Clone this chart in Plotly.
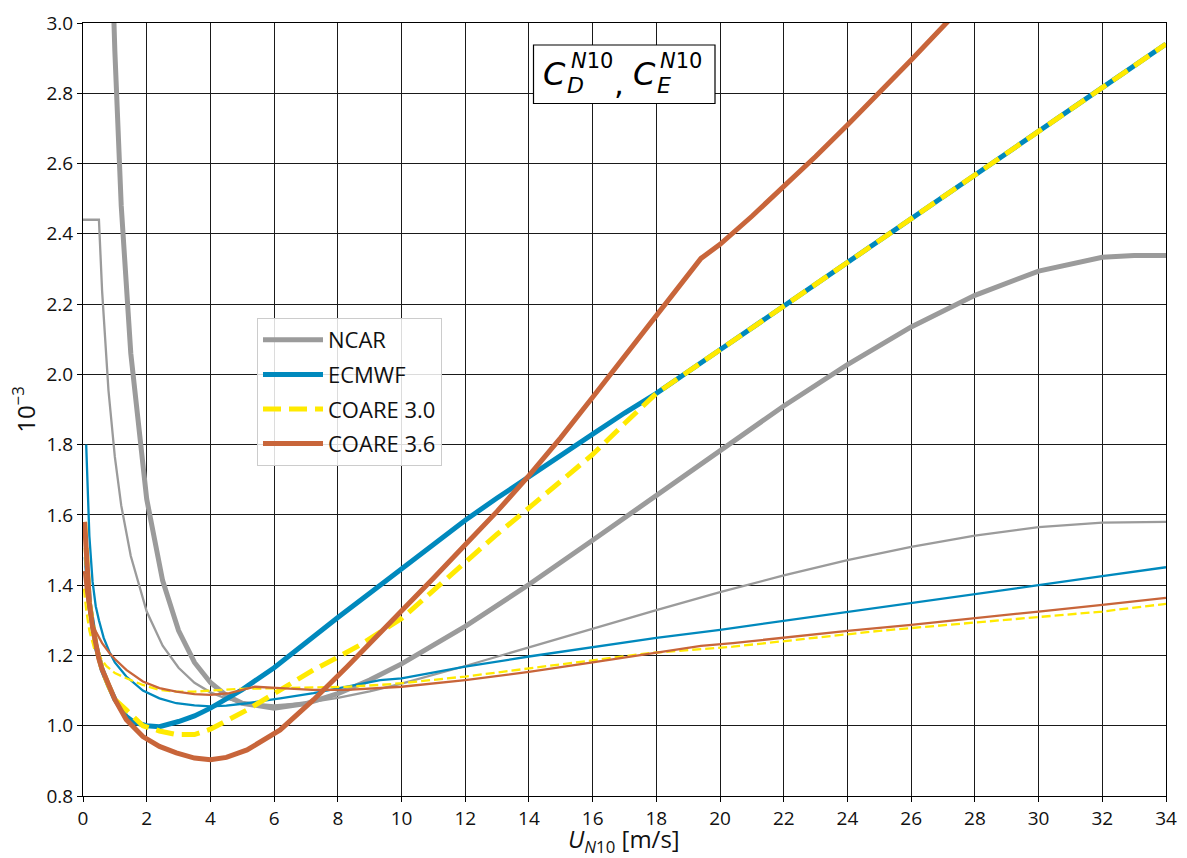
import plotly.graph_objects as go

# ---------------- data (values in units of 1e-3) ----------------
ncar_cd_x = [0.9, 1.0, 1.2, 1.5, 2.0, 2.5, 3.0, 3.5, 4.0, 4.5, 5.0, 6.0, 7.0, 8.0, 9.0, 10, 12, 14, 16, 18, 20, 22, 24, 26, 28, 30, 32, 33, 34]
ncar_cd_y = [3.21, 2.92, 2.48, 2.06, 1.645, 1.413, 1.271, 1.18, 1.123, 1.086, 1.064, 1.05, 1.063, 1.091, 1.13, 1.176, 1.283, 1.402, 1.528, 1.656, 1.785, 1.91, 2.028, 2.135, 2.225, 2.294, 2.333, 2.338, 2.338]

ncar_ce_x = [0.0, 0.5, 0.6, 0.7, 0.8, 1.0, 1.2, 1.5, 2.0, 2.5, 3.0, 3.5, 4.0, 4.5, 5.0, 6.0, 7.0, 8.0, 9.0, 10, 12, 14, 16, 18, 20, 22, 24, 26, 28, 30, 32, 34]
ncar_ce_y = [2.44, 2.44, 2.237, 2.08, 1.954, 1.765, 1.627, 1.483, 1.325, 1.228, 1.165, 1.122, 1.095, 1.077, 1.066, 1.058, 1.065, 1.079, 1.098, 1.12, 1.17, 1.223, 1.277, 1.329, 1.38, 1.428, 1.471, 1.509, 1.541, 1.565, 1.578, 1.58]

ecmwf_cd_x = [0.1, 0.2, 0.4, 0.6, 0.8, 1.0, 1.36, 1.6, 2.0, 2.4, 3.0, 3.5, 4, 5, 6, 7, 8, 9, 10, 11, 12, 13, 14, 15, 16, 17, 18, 20, 22, 24, 26, 28, 30, 32, 34]
ecmwf_cd_y = [1.48, 1.35, 1.23, 1.16, 1.115, 1.075, 1.026, 1.01, 1.0, 0.997, 1.012, 1.028, 1.05, 1.103, 1.165, 1.238, 1.308, 1.377, 1.445, 1.517, 1.585, 1.648, 1.71, 1.77, 1.83, 1.89, 1.946, 2.07, 2.195, 2.32, 2.444, 2.568, 2.692, 2.816, 2.94]

ecmwf_ce_x = [0.1, 0.15, 0.2, 0.3, 0.4, 0.5, 0.65, 0.83, 1.0, 1.36, 1.88, 2.4, 2.93, 3.5, 4.0, 4.5, 5.15, 6.19, 7.24, 8.29, 9.33, 10, 12, 14, 16, 18, 20, 22, 24, 26, 28, 30, 32, 34]
ecmwf_ce_y = [1.80, 1.66, 1.54, 1.41, 1.34, 1.30, 1.25, 1.21, 1.18, 1.14, 1.10, 1.078, 1.064, 1.058, 1.055, 1.057, 1.064, 1.078, 1.093, 1.111, 1.13, 1.135, 1.168, 1.197, 1.224, 1.25, 1.273, 1.298, 1.323, 1.349, 1.375, 1.40, 1.426, 1.451]

coare30_cd_x = [0.05, 0.1, 0.2, 0.4, 0.6, 0.8, 1.0, 1.36, 1.88, 2.4, 2.93, 3.5, 4, 5.15, 6.19, 7.24, 8, 8.7, 10, 11, 12, 13, 14, 15, 16, 17, 18, 20, 22, 24, 26, 28, 30, 32, 34]
coare30_cd_y = [1.58, 1.48, 1.35, 1.23, 1.16, 1.115, 1.075, 1.045, 1.0, 0.985, 0.975, 0.975, 0.99, 1.045, 1.102, 1.159, 1.195, 1.23, 1.305, 1.385, 1.465, 1.545, 1.62, 1.695, 1.772, 1.86, 1.946, 2.07, 2.195, 2.32, 2.444, 2.568, 2.692, 2.816, 2.94]

coare30_ce_x = [0.03, 0.1, 0.2, 0.35, 0.5, 0.73, 1.0, 1.36, 1.88, 2.4, 2.93, 3.5, 4, 5, 6.2, 8.3, 9.3, 10, 12, 14, 16, 17.8, 20.4, 22.5, 25, 28.8, 30, 32, 34]
coare30_ce_y = [1.39, 1.33, 1.27, 1.22, 1.20, 1.17, 1.15, 1.135, 1.116, 1.102, 1.097, 1.097, 1.10, 1.105, 1.107, 1.111, 1.116, 1.121, 1.14, 1.163, 1.186, 1.207, 1.225, 1.245, 1.27, 1.30, 1.31, 1.325, 1.347]

coare36_cd_x = [0.05, 0.1, 0.15, 0.2, 0.3, 0.4, 0.5, 0.6, 0.8, 1.0, 1.36, 1.88, 2.4, 2.93, 3.5, 4.0, 4.5, 5.15, 6.19, 7.24, 8.29, 9.12, 10, 11, 12, 13, 14, 15, 16, 17, 18, 19, 19.4, 20, 21, 22, 23, 24, 25, 26, 27, 28]
coare36_cd_y = [1.58, 1.48, 1.41, 1.35, 1.28, 1.23, 1.19, 1.16, 1.115, 1.075, 1.017, 0.969, 0.941, 0.923, 0.908, 0.903, 0.91, 0.931, 0.988, 1.074, 1.168, 1.244, 1.325, 1.42, 1.515, 1.61, 1.712, 1.82, 1.935, 2.05, 2.168, 2.285, 2.33, 2.37, 2.45, 2.535, 2.62, 2.71, 2.80, 2.895, 2.99, 3.085]

coare36_ce_x = [0.03, 0.1, 0.2, 0.3, 0.42, 0.6, 0.83, 1.0, 1.36, 1.88, 2.4, 2.93, 3.5, 4.0, 4.6, 5.0, 5.4, 6.2, 7.2, 8.3, 9.3, 10, 12, 14, 16, 18, 19.4, 20.4, 22.5, 24, 26, 28.8, 30, 32, 34]
coare36_ce_y = [1.44, 1.38, 1.32, 1.29, 1.265, 1.235, 1.207, 1.19, 1.159, 1.126, 1.107, 1.097, 1.09, 1.088, 1.093, 1.103, 1.111, 1.107, 1.102, 1.102, 1.108, 1.111, 1.13, 1.153, 1.18, 1.207, 1.227, 1.235, 1.256, 1.27, 1.287, 1.315, 1.325, 1.344, 1.364]

x_ticks = list(range(0, 36, 2))
y_ticks = [0.8, 1.0, 1.2, 1.4, 1.6, 1.8, 2.0, 2.2, 2.4, 2.6, 2.8, 3.0]

# ---------------- style ----------------
GRAY = "#9b9b9b"
BLUE = "#0089bd"
YELLOW = "#ffea00"
ORANGE = "#c8653a"
THICK = 5
THIN = 2.3

fig = go.Figure()

def add(x, y, color, width, name, show, dash="solid", group=None):
    fig.add_trace(go.Scatter(x=x, y=y, mode="lines", name=name, showlegend=show,
                             legendgroup=group,
                             line=dict(color=color, width=width, dash=dash)))

add(ncar_cd_x, ncar_cd_y, GRAY, THICK, "NCAR", True, group="a")
add(ncar_ce_x, ncar_ce_y, GRAY, THIN, "NCAR CE", False, group="a")
add(ecmwf_cd_x, ecmwf_cd_y, BLUE, THICK, "ECMWF", True, group="b")
add(ecmwf_ce_x, ecmwf_ce_y, BLUE, THIN, "ECMWF CE", False, group="b")
add(coare30_cd_x, coare30_cd_y, YELLOW, THICK, "COARE 3.0", True, dash="18px,8px", group="c")
add(coare30_ce_x, coare30_ce_y, YELLOW, THIN, "COARE 3.0 CE", False, dash="9px,4px", group="c")
add(coare36_cd_x, coare36_cd_y, ORANGE, THICK, "COARE 3.6", True, group="d")
add(coare36_ce_x, coare36_ce_y, ORANGE, THIN, "COARE 3.6 CE", False, group="d")

# body margin is removed by post_script, so the figure fills the window from (0, 0)
OFF = 0
W, H = 1187, 858
L, R, T, B = 83, 21, 23, 62
PW, PH = W - L - R, H - T - B

def px(xp):  # page pixel -> paper x
    return (xp - OFF - L) / PW

def py(yp):  # page pixel -> paper y
    return (OFF + H - B - yp) / PH

axis_common = dict(showline=True, linecolor="black", linewidth=1, mirror=True,
                   ticks="outside", ticklen=5, tickcolor="black",
                   showgrid=True, gridcolor="#1a1a1a", gridwidth=0.9,
                   zeroline=False, tickfont=dict(family="Open Sans", size=19, color="#111"))

fig.update_xaxes(range=[0, 34], tickvals=x_ticks, **axis_common)
fig.update_yaxes(range=[0.8, 3.0], tickvals=y_ticks, tickformat=".1f", **axis_common,
                 title=dict(text="10<sup>−3</sup>",
                            font=dict(family="Open Sans", size=24, color="#111"), standoff=4))

# x-axis title as an annotation (placed below tick labels)
fig.add_annotation(text="<i>U</i><sub><i>N</i>10</sub> [m/s]", x=px(624), y=py(840),
                   xref="paper", yref="paper", showarrow=False,
                   xanchor="center", yanchor="middle",
                   font=dict(family="Open Sans", size=24, color="#111"))

# title box with stacked sub/superscripts
fig.add_shape(type="rect", xref="paper", yref="paper",
              x0=px(533.5), x1=px(715), y0=py(103.5), y1=py(45),
              line=dict(color="black", width=1.2), fillcolor="white", layer="above")

def txt(s, xp, yp, size):
    fig.add_annotation(text=s, x=px(xp), y=py(yp), xref="paper", yref="paper",
                       showarrow=False, xanchor="center", yanchor="middle",
                       font=dict(family="DejaVu Sans", size=size, color="black"))

txt("<i>C</i>", 554, 74, 32)
txt("<i>N</i>10", 592, 61, 21)
txt("<i>D</i>", 575, 86, 22)
txt(",", 619, 83, 31)
txt("<i>C</i>", 644, 74, 32)
txt("<i>N</i>10", 681, 61, 21)
txt("<i>E</i>", 664, 86, 22)

fig.update_layout(
    width=W, height=H,
    margin=dict(l=L, r=R, t=T, b=B, autoexpand=False),
    plot_bgcolor="white", paper_bgcolor="white",
    font=dict(family="Open Sans", color="#111"),
    legend=dict(x=px(257), y=py(318), xanchor="left", yanchor="top",
                bgcolor="rgba(255,255,255,0.85)", bordercolor="#cccccc", borderwidth=1,
                font=dict(family="Open Sans", size=22, color="#111"),
                itemwidth=60, tracegroupgap=3),
)

fig.write_html("out.html", config={"displayModeBar": False},
               post_script="document.body.style.margin='0';document.body.style.overflow='hidden';")
